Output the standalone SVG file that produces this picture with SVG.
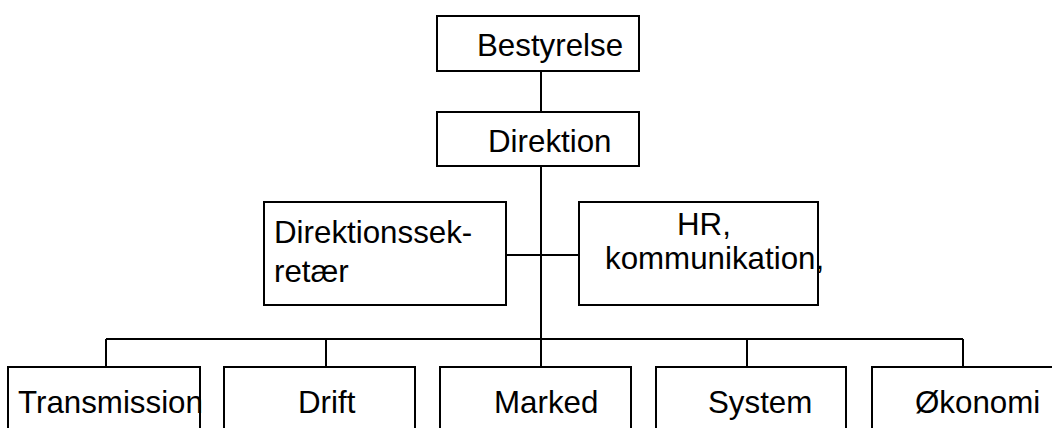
<svg xmlns="http://www.w3.org/2000/svg" width="1052" height="428" viewBox="0 0 1052 428">
<style>
.box{fill:#fff;stroke:#000;stroke-width:2}
.ln{stroke:#000;stroke-width:2;fill:none}
text{font-family:"Liberation Sans",Arial,sans-serif;font-size:31.3px;fill:#000}
</style>
<rect width="1052" height="428" fill="#fff"/>
<g id="connectors">
<line class="ln" x1="541" y1="71" x2="541" y2="112"/>
<line class="ln" x1="541" y1="166" x2="541" y2="367"/>
<line class="ln" x1="506" y1="255" x2="579" y2="255"/>
<line class="ln" x1="106" y1="339" x2="963" y2="339"/>
<line class="ln" x1="106" y1="339" x2="106" y2="367"/>
<line class="ln" x1="326" y1="339" x2="326" y2="367"/>
<line class="ln" x1="747" y1="339" x2="747" y2="367"/>
<line class="ln" x1="963" y1="339" x2="963" y2="367"/>
</g>
<g id="bestyrelse"><rect class="box" x="437" y="16" width="202" height="55"/><text x="477" y="56">Bestyrelse</text></g>
<g id="direktion"><rect class="box" x="437" y="112" width="202" height="54"/><text x="488" y="152">Direktion</text></g>
<g id="direktionssekretaer"><rect class="box" x="264" y="202" width="242" height="103"/><text x="274" y="243">Direktionssek-</text><text x="274" y="282">retær</text></g>
<g id="hr"><rect class="box" x="579" y="202" width="239" height="103"/><text x="677" y="235">HR,</text><text x="605" y="269">kommunikation,</text></g>
<g id="transmission"><rect class="box" x="8" y="367" width="192" height="80"/><text x="18" y="413">Transmission</text></g>
<g id="drift"><rect class="box" x="224" y="367" width="191" height="80"/><text x="298" y="413">Drift</text></g>
<g id="marked"><rect class="box" x="440" y="367" width="191" height="80"/><text x="494" y="413">Marked</text></g>
<g id="system"><rect class="box" x="656" y="367" width="190" height="80"/><text x="708" y="413">System</text></g>
<g id="okonomi"><rect class="box" x="872" y="367" width="190" height="80"/><text x="915" y="413">Økonomi</text></g>
</svg>
